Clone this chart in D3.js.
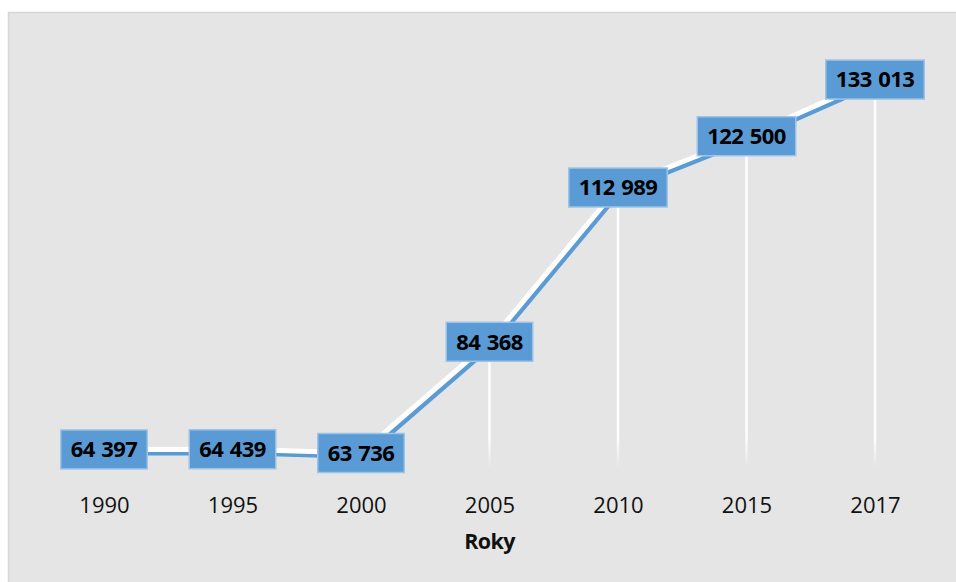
<!DOCTYPE html>
<html>
<head>
<meta charset="utf-8">
<script src="https://cdn.jsdelivr.net/npm/d3@7"></script>
<style>
  html, body { margin: 0; padding: 0; background: #ffffff; }
  svg { display: block; }
</style>
</head>
<body>
<svg id="chart" width="956" height="582"></svg>
<script>
// Data
const years = ["1990", "1995", "2000", "2005", "2010", "2015", "2017"];
const values = [64397, 64439, 63736, 84368, 112989, 122500, 133013];
const axisTitle = "Roky";

const width = 956, height = 582;
const plot = { left: 39.75, right: 939.25, top: 41.9, bottom: 467.75 };
const fontFamily = "'Open Sans', 'Noto Sans', sans-serif";

const svg = d3.select("#chart");

// Chart panel
svg.append("rect")
  .attr("x", 8.5).attr("y", 12.5)
  .attr("width", width).attr("height", height)
  .attr("fill", "#e5e5e5")
  .attr("stroke", "#d6d6d6")
  .attr("stroke-width", 1.5);

const x = d3.scalePoint().domain(years).range([plot.left, plot.right]).padding(0.5);
const y = d3.scaleLinear().domain([61000, 140000]).range([plot.bottom, plot.top]);

const data = years.map((yr, i) => ({ year: yr, value: values[i] }));

// Fade for the bottom of the drop lines
const defs = svg.append("defs");
const grad = defs.append("linearGradient")
  .attr("id", "dropFade")
  .attr("gradientUnits", "userSpaceOnUse")
  .attr("x1", 0).attr("x2", 0)
  .attr("y1", plot.bottom - 30).attr("y2", plot.bottom);
grad.append("stop").attr("offset", 0).attr("stop-color", "#ffffff").attr("stop-opacity", 0.95);
grad.append("stop").attr("offset", 1).attr("stop-color", "#ffffff").attr("stop-opacity", 0);

// Drop lines
svg.append("g").selectAll("line")
  .data(data)
  .join("line")
  .attr("x1", d => x(d.year)).attr("x2", d => x(d.year))
  .attr("y1", d => y(d.value)).attr("y2", plot.bottom)
  .attr("stroke", "url(#dropFade)")
  .attr("stroke-width", 2.5);

// Series line with its blue shadow
const line = d3.line().x(d => x(d.year)).y(d => y(d.value));
svg.append("path")
  .datum(data)
  .attr("d", line)
  .attr("transform", "translate(2.5,3.5)")
  .attr("fill", "none")
  .attr("stroke", "#5b9bd5")
  .attr("stroke-width", 5)
  .attr("stroke-linejoin", "round");
svg.append("path")
  .datum(data)
  .attr("d", line)
  .attr("fill", "none")
  .attr("stroke", "#ffffff")
  .attr("stroke-width", 5)
  .attr("stroke-linejoin", "round");

// Value labels in boxes
const fmt = v => d3.format(",")(v).replace(/,/g, " ");
const labels = svg.append("g").selectAll("g")
  .data(data)
  .join("g")
  .attr("transform", d => `translate(${x(d.year)},${y(d.value)})`);

labels.each(function(d) {
  const g = d3.select(this);
  const rect = g.append("rect");
  const t = g.append("text")
    .attr("text-anchor", "middle")
    .attr("dy", "0.36em")
    .attr("font-family", fontFamily)
    .attr("font-weight", "bold")
    .attr("font-size", 22)
    .attr("letter-spacing", "-0.6")
    .attr("word-spacing", "1.5")
    .attr("fill", "#000000")
    .text(fmt(d.value));
  const w = t.node().getComputedTextLength() + 20;
  const h = 39;
  rect.attr("x", -w / 2).attr("y", -h / 2)
    .attr("width", w).attr("height", h)
    .attr("fill", "#5b9bd5")
    .attr("stroke", "#9dc3e6")
    .attr("stroke-width", 1.5);
});

// Category axis
const xAxis = d3.axisBottom(x).tickSize(0).tickPadding(0);
const ax = svg.append("g")
  .attr("transform", `translate(0,${plot.bottom})`)
  .call(xAxis);
ax.select(".domain").remove();
ax.selectAll("text")
  .attr("dy", null)
  .attr("y", 45)
  .attr("font-family", fontFamily)
  .attr("font-size", 22)
  .attr("fill", "#111111");

// Axis title
svg.append("text")
  .attr("x", (plot.left + plot.right) / 2)
  .attr("y", 549)
  .attr("text-anchor", "middle")
  .attr("font-family", fontFamily)
  .attr("font-weight", "bold")
  .attr("font-size", 21.5)
  .attr("letter-spacing", "-0.6")
  .attr("fill", "#111111")
  .text(axisTitle);
</script>
</body>
</html>
